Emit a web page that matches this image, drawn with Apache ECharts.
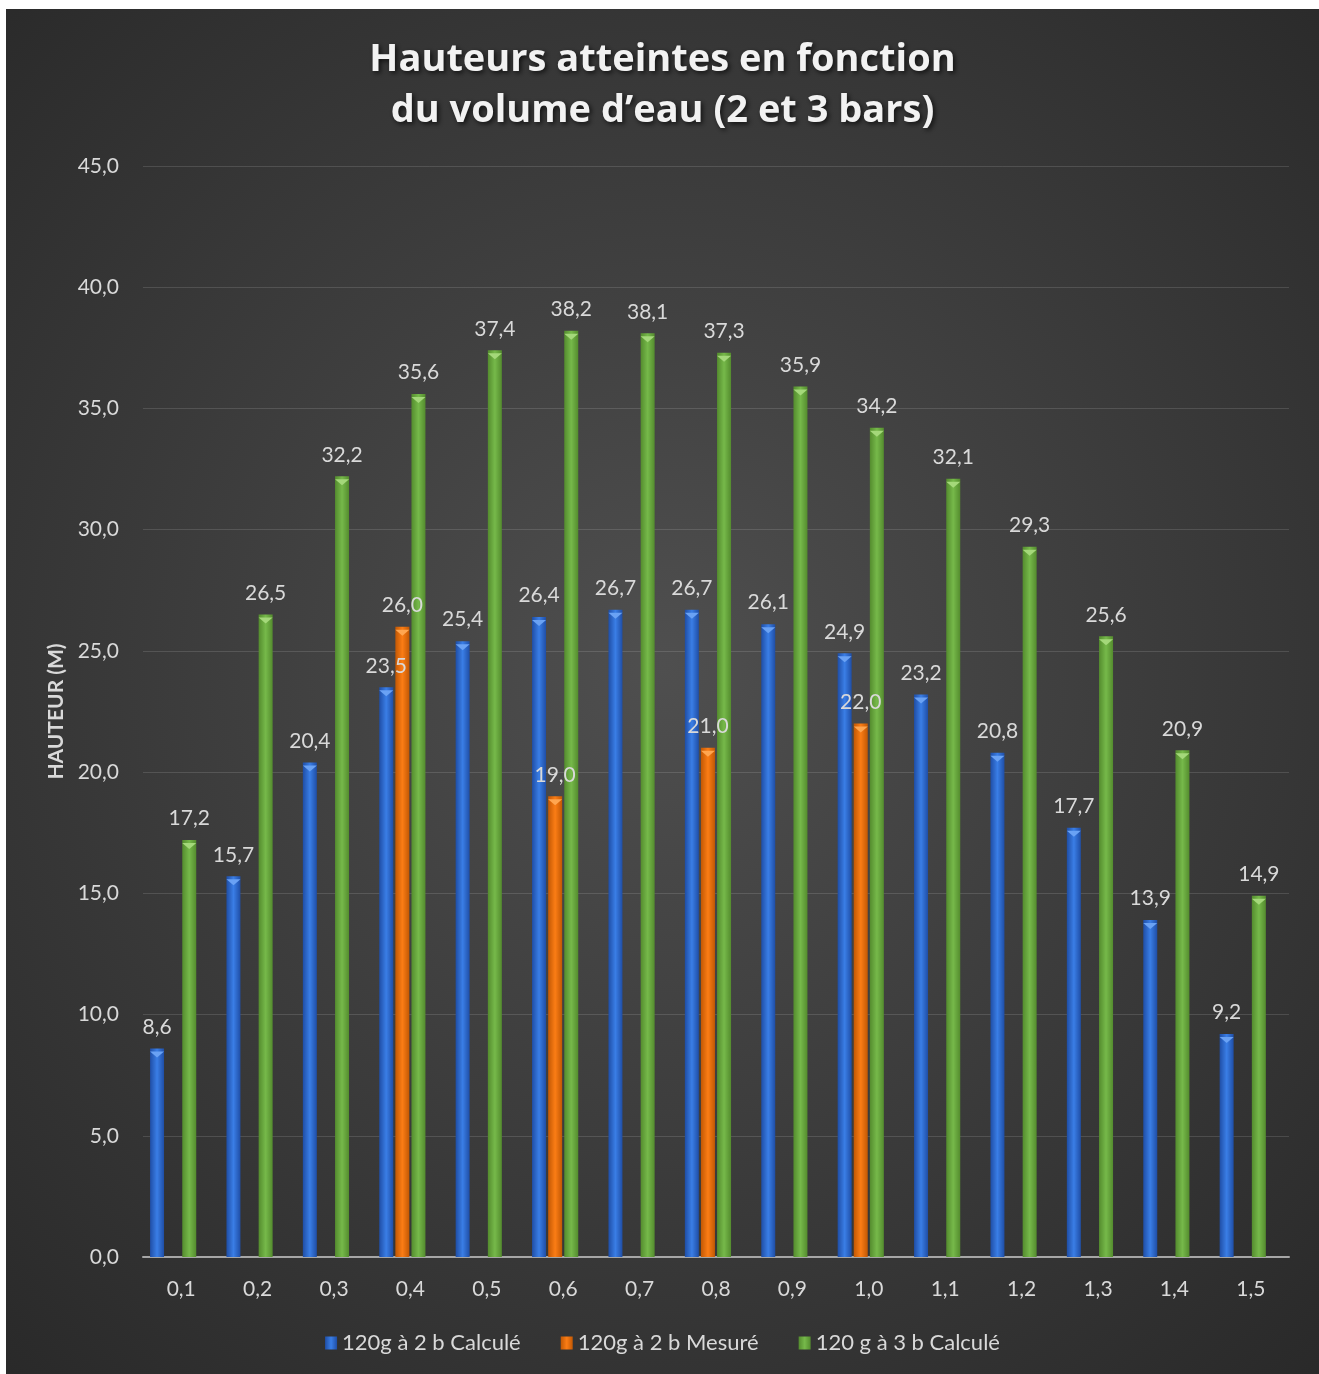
<!DOCTYPE html>
<html>
<head>
<meta charset="utf-8">
<script src="https://cdn.jsdelivr.net/npm/echarts@6/dist/echarts.min.js"></script>
<style>
  html, body { margin: 0; padding: 0; background: #ffffff; }
  #chart { position: absolute; left: 6px; top: 9px; width: 1313px; height: 1365px; }
</style>
</head>
<body>
<div id="chart"></div>
<script>
// Water volume (categories) and reached heights (m)
const volumes = ['0,1', '0,2', '0,3', '0,4', '0,5', '0,6', '0,7', '0,8', '0,9', '1,0', '1,1', '1,2', '1,3', '1,4', '1,5'];
const calc2bar = [8.6, 15.7, 20.4, 23.5, 25.4, 26.4, 26.7, 26.7, 26.1, 24.9, 23.2, 20.8, 17.7, 13.9, 9.2];
const measured2bar = [null, null, null, 26.0, null, 19.0, null, 21.0, null, 22.0, null, null, null, null, null];
const calc3bar = [17.2, 26.5, 32.2, 35.6, 37.4, 38.2, 38.1, 37.3, 35.9, 34.2, 32.1, 29.3, 25.6, 20.9, 14.9];
const seriesNames = ['120g à 2 b Calculé', '120g à 2 b Mesuré', '120 g à 3 b Calculé'];

const FONT = 'Lato, "Open Sans", sans-serif';
const TITLE_FONT = '"Open Sans", Lato, sans-serif';
const TXT = '#d9d9d9';
const fmt = v => (v == null ? '' : Number(v).toFixed(1).replace('.', ','));

const BAR_W = 14;
const BAR_GAP = '15%';

function cyl(dark, light) {
  return {
    type: 'linear', x: 0, y: 0, x2: 1, y2: 0,
    colorStops: [
      { offset: 0, color: dark },
      { offset: 0.5, color: light },
      { offset: 1, color: dark }
    ]
  };
}

const palette = [
  cyl('#1f4ea6', '#3a7ee6'),
  cyl('#c25804', '#fb7d15'),
  cyl('#548c2e', '#76b94a')
];
const capColors = ['#6aa2f4', '#ffa650', '#a4d87a'];

function barSeries(name, data, color) {
  return {
    name: name,
    type: 'bar',
    data: data,
    barWidth: BAR_W,
    barGap: BAR_GAP,
    itemStyle: { color: color },
    label: {
      show: true,
      position: 'top',
      distance: 11,
      color: TXT,
      fontFamily: FONT,
      fontSize: 21,
      formatter: p => fmt(p.value)
    }
  };
}

// bevelled cap drawn on top of each bar
function capSeries(name, data, color) {
  return {
    name: name,
    type: 'pictorialBar',
    data: data,
    barWidth: BAR_W,
    barGap: BAR_GAP,
    symbol: 'triangle',
    symbolRotate: 180,
    symbolSize: [BAR_W, 6],
    symbolPosition: 'end',
    symbolOffset: [0, '50%'],
    itemStyle: { color: color },
    z: 5,
    silent: true
  };
}

const empty = volumes.map(() => null);

const chart = echarts.init(document.getElementById('chart'), null, { renderer: 'canvas' });
chart.setOption({
  backgroundColor: {
    type: 'radial', x: 0.5, y: 0.48, r: 0.78,
    colorStops: [
      { offset: 0, color: '#4f4f4f' },
      { offset: 1, color: '#272727' }
    ]
  },
  title: {
    text: 'Hauteurs atteintes en fonction\ndu volume d\u2019eau (2 et 3 bars)',
    left: 'center',
    top: 21,
    textStyle: {
      color: '#f2f2f2',
      fontFamily: TITLE_FONT,
      fontWeight: 'bold',
      fontSize: 38,
      lineHeight: 51,
      textShadowColor: 'rgba(0,0,0,0.7)',
      textShadowBlur: 5,
      textShadowOffsetX: 2,
      textShadowOffsetY: 2
    }
  },
  legend: {
    data: seriesNames,
    bottom: 15,
    left: 'center',
    itemWidth: 12,
    itemHeight: 13,
    itemGap: 40,
    icon: 'rect',
    textStyle: { color: TXT, fontFamily: FONT, fontSize: 22 }
  },
  grid: { left: 137, right: 30, top: 157, bottom: 117, containLabel: false },
  xAxis: {
    type: 'category',
    data: volumes,
    axisTick: { show: false },
    axisLine: { lineStyle: { color: '#a6a6a6', width: 2 } },
    axisLabel: { color: TXT, fontFamily: FONT, fontSize: 21, margin: 22 }
  },
  yAxis: {
    type: 'value',
    min: 0,
    max: 45,
    interval: 5,
    name: 'HAUTEUR (M)',
    nameLocation: 'middle',
    nameGap: 76,
    nameTextStyle: { color: TXT, fontFamily: FONT, fontSize: 21, fontWeight: 'bold' },
    axisLine: { show: false },
    axisTick: { show: false },
    axisLabel: { color: TXT, fontFamily: FONT, fontSize: 21, margin: 24, formatter: fmt },
    splitLine: { lineStyle: { color: 'rgba(255,255,255,0.13)', width: 1 } }
  },
  series: [
    barSeries(seriesNames[0], calc2bar, palette[0]),
    barSeries(seriesNames[1], measured2bar, palette[1]),
    barSeries(seriesNames[2], calc3bar, palette[2]),
    // empty fourth slot in each group, keeps the three bars left of the tick centre
    { name: 'slot', type: 'bar', data: empty, barWidth: BAR_W, barGap: BAR_GAP, silent: true },
    capSeries(seriesNames[0], calc2bar, capColors[0]),
    capSeries(seriesNames[1], measured2bar, capColors[1]),
    capSeries(seriesNames[2], calc3bar, capColors[2]),
    { name: 'slot', type: 'pictorialBar', data: empty, barWidth: BAR_W, barGap: BAR_GAP, symbol: 'rect', silent: true }
  ]
});
</script>
</body>
</html>
